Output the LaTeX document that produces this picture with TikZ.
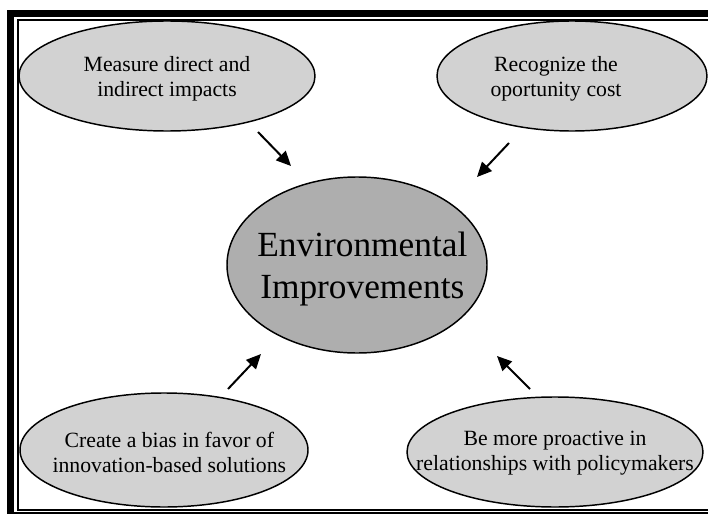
\documentclass[tikz,border=0pt]{standalone}
\usepackage{fontspec}
\setmainfont{Liberation Serif}
\usetikzlibrary{shapes.geometric, arrows.meta}
\definecolor{bubblegray}{RGB}{210,210,210}
\definecolor{coregray}{RGB}{174,174,174}
\tikzset{
  bubble/.style={ellipse, draw=black, fill=bubblegray, line width=1.1pt,
    inner sep=0pt},
  core/.style={ellipse, draw=black, fill=coregray, line width=1.1pt,
    inner sep=0pt, minimum width=195pt, minimum height=132pt},
  bubbletext/.style={align=center, inner sep=0pt,
    font=\fontsize{16.3}{18.75}\selectfont},
  coretext/.style={align=center, inner sep=0pt,
    font=\fontsize{26.5}{32}\selectfont},
  arrow/.style={-{Triangle[length=11pt, width=10pt]}, line width=1.5pt}
}

\begin{document}
\begin{tikzpicture}[x=0.75pt, y=-0.75pt]
  \useasboundingbox (0,0) rectangle (708,514);
  \clip (0,0) rectangle (708,514);

  % Double frame
  \draw[line width=5.25pt] (10.5,13.5) rectangle (730,515.5);
  \draw[line width=1.1pt] (18,20) rectangle (725,510);

  % Ellipses
  \node[bubble, minimum width=222pt, minimum height=82.5pt] (measure) at (167,76) {};
  \node[bubble, minimum width=202.5pt, minimum height=82.5pt] (opp) at (572,76) {};
  \node[core] (env) at (357,265) {};
  \node[bubble, minimum width=216pt, minimum height=85.5pt] (bias) at (164,450) {};
  \node[bubble, minimum width=222pt, minimum height=82.5pt] (proact) at (555,452) {};

  % Texts
  \node[bubbletext, yshift=-2pt] (measuretext) at (measure) {Measure direct and\\indirect impacts};
  \node[bubbletext, xshift=-12pt, yshift=-2pt] (opptext) at (opp) {Recognize the\\oportunity cost};
  \node[coretext, xshift=4pt, yshift=-3pt] (envtext) at (env) {Environmental\\Improvements};
  \node[bubbletext, xshift=4pt, yshift=-2pt] (biastext) at (bias) {Create a bias in favor of\\innovation-based solutions};
  \node[bubbletext, yshift=-1pt] (proacttext) at (proact) {Be more proactive in\\relationships with policymakers};

  % Arrow ends
  \coordinate (tl-tail) at (258,132);
  \coordinate (tl-tip) at (291,166);
  \coordinate (tr-tail) at (509,143);
  \coordinate (tr-tip) at (477,177);
  \coordinate (bl-tail) at (228,389);
  \coordinate (bl-tip) at (261,354);
  \coordinate (br-tail) at (530,389);
  \coordinate (br-tip) at (497,356);

  \draw[arrow] (tl-tail) -- (tl-tip);
  \draw[arrow] (tr-tail) -- (tr-tip);
  \draw[arrow] (bl-tail) -- (bl-tip);
  \draw[arrow] (br-tail) -- (br-tip);
\end{tikzpicture}
\end{document}
